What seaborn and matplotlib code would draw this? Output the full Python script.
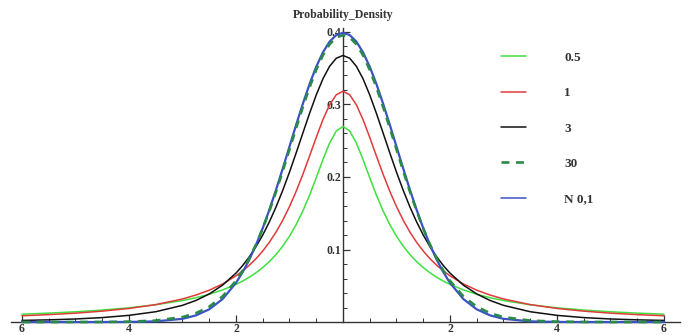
import matplotlib
matplotlib.use("Agg")
import matplotlib.pyplot as plt
from matplotlib.ticker import FixedLocator, FixedFormatter
import seaborn as sns
import pandas as pd

x_values = [-6, -5.5, -5, -4.5, -4, -3.5, -3, -2.75, -2.5, -2.25, -2, -1.875, -1.75, -1.625, -1.5,
            -1.375, -1.25, -1.125, -1, -0.875, -0.75, -0.625, -0.5, -0.375, -0.25, -0.125, 0,
            0.125, 0.25, 0.375, 0.5, 0.625, 0.75, 0.875, 1, 1.125, 1.25, 1.375, 1.5, 1.625, 1.75,
            1.875, 2, 2.25, 2.5, 2.75, 3, 3.5, 4, 4.5, 5, 5.5, 6]

dens_05 = [0.0108, 0.0123, 0.0141, 0.0165, 0.0196, 0.0238, 0.0296, 0.0335, 0.0383, 0.0443, 0.0519,
           0.0565, 0.0618, 0.0680, 0.0751, 0.0834, 0.0932, 0.1047, 0.1183, 0.1344, 0.1532, 0.1749,
           0.1990, 0.2239, 0.2469, 0.2635, 0.2697,
           0.2635, 0.2469, 0.2239, 0.1990, 0.1749, 0.1532, 0.1344, 0.1183, 0.1047, 0.0932, 0.0834,
           0.0751, 0.0680, 0.0618, 0.0565, 0.0519, 0.0443, 0.0383, 0.0335, 0.0296, 0.0238, 0.0196,
           0.0165, 0.0141, 0.0123, 0.0108]
dens_1 = [0.0086, 0.0102, 0.0122, 0.0150, 0.0187, 0.0240, 0.0318, 0.0372, 0.0439, 0.0525, 0.0637,
          0.0705, 0.0784, 0.0874, 0.0979, 0.1101, 0.1242, 0.1405, 0.1592, 0.1803, 0.2037, 0.2289,
          0.2546, 0.2791, 0.2996, 0.3134, 0.3183,
          0.3134, 0.2996, 0.2791, 0.2546, 0.2289, 0.2037, 0.1803, 0.1592, 0.1405, 0.1242, 0.1101,
          0.0979, 0.0874, 0.0784, 0.0705, 0.0637, 0.0525, 0.0439, 0.0372, 0.0318, 0.0240, 0.0187,
          0.0150, 0.0122, 0.0102, 0.0086]
dens_3 = [0.0022, 0.0030, 0.0042, 0.0061, 0.0092, 0.0142, 0.0230, 0.0297, 0.0387, 0.0509, 0.0675,
          0.0779, 0.0900, 0.1040, 0.1200, 0.1383, 0.1589, 0.1818, 0.2067, 0.2333, 0.2606, 0.2877,
          0.3132, 0.3354, 0.3527, 0.3638, 0.3676,
          0.3638, 0.3527, 0.3354, 0.3132, 0.2877, 0.2606, 0.2333, 0.2067, 0.1818, 0.1589, 0.1383,
          0.1200, 0.1040, 0.0900, 0.0779, 0.0675, 0.0509, 0.0387, 0.0297, 0.0230, 0.0142, 0.0092,
          0.0061, 0.0042, 0.0030, 0.0022]
dens_30 = [0.0000, 0.0000, 0.0000, 0.0001, 0.0005, 0.0020, 0.0068, 0.0121, 0.0211, 0.0353, 0.0569,
           0.0710, 0.0877, 0.1070, 0.1290, 0.1534, 0.1801, 0.2085, 0.2380, 0.2677, 0.2967, 0.3237,
           0.3479, 0.3680, 0.3831, 0.3925, 0.3956,
           0.3925, 0.3831, 0.3680, 0.3479, 0.3237, 0.2967, 0.2677, 0.2380, 0.2085, 0.1801, 0.1534,
           0.1290, 0.1070, 0.0877, 0.0710, 0.0569, 0.0353, 0.0211, 0.0121, 0.0068, 0.0020, 0.0005,
           0.0001, 0.0000, 0.0000, 0.0000]
dens_norm = [0.0000, 0.0000, 0.0000, 0.0000, 0.0001, 0.0009, 0.0044, 0.0091, 0.0175, 0.0317, 0.0540,
             0.0688, 0.0863, 0.1065, 0.1295, 0.1550, 0.1826, 0.2119, 0.2420, 0.2721, 0.3011, 0.3282,
             0.3521, 0.3719, 0.3867, 0.3958, 0.3989,
             0.3958, 0.3867, 0.3719, 0.3521, 0.3282, 0.3011, 0.2721, 0.2420, 0.2119, 0.1826, 0.1550,
             0.1295, 0.1065, 0.0863, 0.0688, 0.0540, 0.0317, 0.0175, 0.0091, 0.0044, 0.0009, 0.0001,
             0.0000, 0.0000, 0.0000, 0.0000]

series_labels = ["0.5", "1", "3", "30", "N 0,1"]
x_tick_values = [-6, -4, -2, 2, 4, 6]
x_tick_labels = ["6", "4", "2", "2", "4", "6"]
x_minor_ticks = [-5.5, -5, -4.5, -3.5, -3, -2.5, -1.5, -1, -0.5, 0.5, 1, 1.5, 2.5, 3, 3.5, 4.5, 5, 5.5]
y_tick_values = [0.1, 0.2, 0.3, 0.4]
y_tick_labels = ["0.1", "0.2", "0.3", "0.4"]
y_minor_ticks = [0.02, 0.04, 0.06, 0.08, 0.12, 0.14, 0.16, 0.18, 0.22, 0.24, 0.26, 0.28,
                 0.32, 0.34, 0.36, 0.38]
title_text = "Probability_Density"

sns.set_theme(style="white")
plt.rcParams["font.family"] = ["Liberation Serif", "DejaVu Serif"]

fig = plt.figure(figsize=(6.94, 3.35), dpi=100)
ax = fig.add_axes([0, 0, 1, 1])

colors = ["#3fe03f", "#e23a3a", "#111111", "#2a8a4a", "#3a52c4"]
styles = ["-", "-", "-", (0, (3, 2.5)), "-"]
widths = [1.1, 1.1, 1.1, 1.9, 1.6]
all_series = [dens_05, dens_1, dens_3, dens_30, dens_norm]
zorders = [3, 3, 3, 5, 4]

handles = []
for lab, vals, c, ls, lw, z in zip(series_labels, all_series, colors, styles, widths, zorders):
    df = pd.DataFrame({"x": x_values, "y": vals})
    sns.lineplot(data=df, x="x", y="y", ax=ax, color=c, linewidth=lw, linestyle=ls,
                 zorder=z, label=lab, legend=False)
    handles.append(ax.lines[-1])

ax.set_xlim(-6.411, 6.561)
ax.set_ylim(-0.0179, 0.4441)
ax.set_xlabel("")
ax.set_ylabel("")

for s in ["top", "right"]:
    ax.spines[s].set_visible(False)
ax.spines["left"].set_position(("data", 0))
ax.spines["bottom"].set_position(("data", 0))
ax.spines["left"].set_bounds(0, 0.405)
ax.spines["bottom"].set_bounds(-6.2, 6.3)
for s in ["left", "bottom"]:
    ax.spines[s].set_color("#333333")
    ax.spines[s].set_linewidth(1.0)
    ax.spines[s].set_zorder(2)

ax.xaxis.set_major_locator(FixedLocator(x_tick_values))
ax.xaxis.set_major_formatter(FixedFormatter(x_tick_labels))
ax.xaxis.set_minor_locator(FixedLocator(x_minor_ticks))
ax.yaxis.set_major_locator(FixedLocator(y_tick_values))
ax.yaxis.set_major_formatter(FixedFormatter(y_tick_labels))
ax.yaxis.set_minor_locator(FixedLocator(y_minor_ticks))
ax.tick_params(axis="both", which="major", direction="in", length=5, width=0.9,
               color="#333333", labelsize=8.5, bottom=True, left=True)
ax.tick_params(axis="both", which="minor", direction="in", length=3, width=0.7,
               color="#333333", bottom=True, left=True)
ax.tick_params(axis="x", pad=1)
ax.tick_params(axis="y", pad=1)
for t in ax.get_xticklabels() + ax.get_yticklabels():
    t.set_fontweight("bold")
    t.set_color("#333333")

ax.text(0, 0.423, title_text, ha="center", va="center", fontsize=8.5,
        fontweight="bold", color="#333333")

leg = ax.legend(handles=handles, labels=series_labels, loc="upper left",
                bbox_to_anchor=(0.705, 0.881), frameon=False, fontsize=9.5,
                handlelength=1.9, handletextpad=2.9, labelspacing=1.75)
for ln, lw in zip(leg.get_lines(), [1.1, 1.1, 1.1, 1.9, 1.1]):
    ln.set_linewidth(lw)
for t in leg.get_texts():
    t.set_fontweight("bold")
    t.set_color("#333333")

ax.grid(False)
fig.savefig("out.png", dpi=100)
